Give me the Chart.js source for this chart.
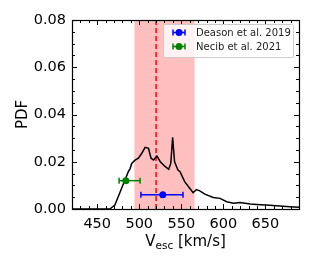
<!DOCTYPE html>
<html>
<head>
<meta charset="utf-8">
<script src="https://cdn.jsdelivr.net/npm/chart.js@4.4.1/dist/chart.umd.min.js"></script>
<style>
html,body{margin:0;padding:0;background:#fff;}
#wrap{width:312px;height:267px;}
</style>
</head>
<body>
<div id="wrap"><canvas id="c" width="312" height="267"></canvas></div>
<script>
// ---- data ----
const vesc = [420, 440, 465, 471, 475, 479, 483, 487, 489, 491, 495, 499, 503, 507, 511, 514, 517, 521, 525, 531, 535, 537.5, 539.7, 542, 546, 548.5, 554, 560, 564, 568, 572, 578, 588, 596, 604, 612, 620, 632, 644, 655, 667, 679, 690];
const pdf  = [0, 0, 0, 0.0017, 0.0052, 0.0088, 0.0123, 0.0158, 0.0170, 0.0193, 0.0207, 0.0215, 0.0236, 0.0261, 0.0257, 0.0215, 0.0207, 0.0224, 0.0200, 0.0179, 0.0168, 0.0193, 0.0303, 0.0200, 0.0165, 0.0158, 0.0116, 0.0088, 0.0069, 0.0082, 0.0077, 0.0063, 0.0049, 0.0045, 0.0031, 0.0024, 0.0027, 0.0021, 0.0018, 0.0016, 0.0013, 0.0010, 0.0007];
const bandRange = [494, 566];
const medianVesc = 520;
const seriesNames = ["Deason et al. 2019", "Necib et al. 2021"];
const pointV   = [528, 484];
const pointPdf = [0.006, 0.012];
const errLow   = [502, 476];
const errHigh  = [552, 501];
const seriesColors = ["#0000ff", "#008000"];
const xTicks = [450, 500, 550, 600, 650];
const yTicks = [0, 0.02, 0.04, 0.06, 0.08];
const xRange = [420, 690];
const yRange = [0, 0.08];

const FONT = "'DejaVu Sans', sans-serif";

const datasets = [];
for (let i = 0; i < seriesNames.length; i++) {
  datasets.push({
    label: seriesNames[i] + " point",
    data: [{x: pointV[i], y: pointPdf[i]}],
    showLine: false,
    pointRadius: 3.5,
    pointBackgroundColor: seriesColors[i],
    pointBorderColor: seriesColors[i],
    pointBorderWidth: 0,
    order: 0
  });
  datasets.push({
    label: seriesNames[i] + " err",
    data: [{x: errLow[i], y: pointPdf[i]}, {x: errHigh[i], y: pointPdf[i]}],
    showLine: true,
    borderColor: seriesColors[i],
    borderWidth: 1.5,
    pointStyle: 'line',
    rotation: 90,
    pointRadius: 3,
    pointBorderColor: seriesColors[i],
    pointBorderWidth: 1.5,
    order: 1
  });
}
datasets.push({
  label: "curve",
  data: vesc.map((v, i) => ({x: v, y: pdf[i]})),
  showLine: true,
  borderColor: "#000",
  borderWidth: 1.5,
  pointRadius: 0,
  tension: 0,
  order: 2
});
datasets.push({
  label: "median",
  data: [{x: medianVesc, y: yRange[0]}, {x: medianVesc, y: yRange[1]}],
  showLine: true,
  borderColor: "#ff0000",
  borderWidth: 1.5,
  borderDash: [5, 3],
  pointRadius: 0,
  order: 3
});
datasets.push({
  label: "band",
  data: [{x: bandRange[0], y: yRange[1]}, {x: bandRange[1], y: yRange[1]}],
  showLine: true,
  borderWidth: 0,
  borderColor: "rgba(0,0,0,0)",
  backgroundColor: "rgba(255,0,0,0.25)",
  fill: 'origin',
  pointRadius: 0,
  order: 4
});

const framePlugin = {
  id: 'frame',
  afterDraw(chart) {
    const ctx = chart.ctx;
    const a = chart.chartArea;
    const xs = chart.scales.x, ys = chart.scales.y;
    ctx.save();
    ctx.strokeStyle = '#000';
    ctx.lineWidth = 1;
    ctx.beginPath();
    for (let v = xRange[0]; v <= xRange[1] + 1e-9; v += 10) {
      const px = Math.round(xs.getPixelForValue(v)) + 0.5;
      const major = xTicks.includes(v);
      const len = major ? 5 : 3;
      ctx.moveTo(px, a.bottom); ctx.lineTo(px, a.bottom - len);
      ctx.moveTo(px, a.top); ctx.lineTo(px, a.top + len);
    }
    for (let k = 0; k <= 16; k++) {
      const v = k * 0.005;
      const py = Math.round(ys.getPixelForValue(v)) + 0.5;
      const major = (k % 4 === 0);
      const len = major ? 5 : 3;
      ctx.moveTo(a.left, py); ctx.lineTo(a.left + len, py);
      ctx.moveTo(a.right, py); ctx.lineTo(a.right - len, py);
    }
    ctx.stroke();
    ctx.lineWidth = 1.2;
    ctx.strokeRect(Math.round(a.left) + 0.5, Math.round(a.top) + 0.5, Math.round(a.right - a.left), Math.round(a.bottom - a.top));

    ctx.fillStyle = '#000';
    ctx.textBaseline = 'alphabetic';
    const big = "15px " + FONT, small = "10.5px " + FONT;
    ctx.font = big;
    const wV = ctx.measureText("V").width;
    const wU = ctx.measureText(" [km/s]").width;
    ctx.font = small;
    const wS = ctx.measureText("esc").width;
    const total = wV + wS + wU;
    let x0 = (a.left + a.right) / 2 - total / 2;
    const base = 246;
    ctx.font = big; ctx.textAlign = 'left';
    ctx.fillText("V", x0, base);
    ctx.font = small;
    ctx.fillText("esc", x0 + wV, base + 3);
    ctx.font = big;
    ctx.fillText(" [km/s]", x0 + wV + wS, base);

    ctx.save();
    ctx.translate(23, (a.top + a.bottom) / 2);
    ctx.rotate(-Math.PI / 2);
    ctx.textAlign = 'center';
    ctx.textBaseline = 'middle';
    ctx.font = big;
    ctx.fillText("PDF", 0, 0);
    ctx.restore();

    const lx = 163, ly = 24, lw = 130, lh = 33;
    ctx.fillStyle = 'rgba(255,255,255,0.8)';
    ctx.strokeStyle = '#cccccc';
    ctx.lineWidth = 1;
    ctx.beginPath();
    if (ctx.roundRect) ctx.roundRect(lx + 0.5, ly + 0.5, lw, lh, 2); else ctx.rect(lx + 0.5, ly + 0.5, lw, lh);
    ctx.fill(); ctx.stroke();
    ctx.font = "10px " + FONT;
    ctx.textAlign = 'left';
    ctx.textBaseline = 'middle';
    for (let i = 0; i < seriesNames.length; i++) {
      const cy = 32.5 + i * 14;
      const cx = 179;
      ctx.strokeStyle = seriesColors[i];
      ctx.fillStyle = seriesColors[i];
      ctx.lineWidth = 1.5;
      ctx.beginPath();
      ctx.moveTo(cx - 6, cy); ctx.lineTo(cx + 6, cy);
      ctx.moveTo(cx - 6, cy - 3); ctx.lineTo(cx - 6, cy + 3);
      ctx.moveTo(cx + 6, cy - 3); ctx.lineTo(cx + 6, cy + 3);
      ctx.stroke();
      ctx.beginPath(); ctx.arc(cx, cy, 3.5, 0, Math.PI * 2); ctx.fill();
      ctx.fillStyle = '#222';
      ctx.fillText(seriesNames[i], 196, cy + 0.5);
    }
    ctx.restore();
  }
};

new Chart(document.getElementById('c'), {
  type: 'scatter',
  data: { datasets },
  options: {
    responsive: false,
    animation: false,
    devicePixelRatio: 1,
    layout: { padding: { left: 0, right: 13, top: 20, bottom: 0 } },
    plugins: { legend: { display: false }, tooltip: { enabled: false } },
    scales: {
      x: {
        type: 'linear',
        min: xRange[0], max: xRange[1],
        afterBuildTicks: s => { s.ticks = xTicks.map(v => ({value: v})); },
        afterFit: s => { s.height = 58; },
        grid: { display: false, drawTicks: false },
        border: { display: false },
        ticks: { color: '#000', font: { family: FONT, size: 14.5 }, padding: 7, maxRotation: 0, autoSkip: false }
      },
      y: {
        type: 'linear',
        min: yRange[0], max: yRange[1],
        afterBuildTicks: s => { s.ticks = yTicks.map(v => ({value: v})); },
        afterFit: s => { s.width = 72; },
        grid: { display: false, drawTicks: false },
        border: { display: false },
        ticks: { color: '#000', font: { family: FONT, size: 14.5 }, padding: 6, callback: v => v.toFixed(2) }
      }
    }
  },
  plugins: [framePlugin]
});
</script>
</body>
</html>
